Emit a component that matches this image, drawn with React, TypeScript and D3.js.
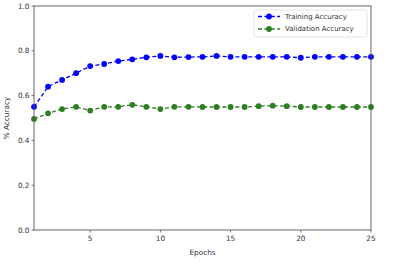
import React from 'react';
import * as d3 from 'd3';

const epochs = d3.range(1, 26);
const trainingAcc = [0.55, 0.64, 0.67, 0.70, 0.732, 0.741, 0.754, 0.762, 0.771, 0.777, 0.771, 0.772, 0.773, 0.777, 0.773, 0.773, 0.773, 0.773, 0.773, 0.769, 0.773, 0.773, 0.773, 0.773, 0.773];
const validationAcc = [0.496, 0.521, 0.540, 0.550, 0.533, 0.550, 0.550, 0.559, 0.550, 0.540, 0.550, 0.550, 0.549, 0.549, 0.549, 0.549, 0.553, 0.555, 0.553, 0.549, 0.549, 0.549, 0.549, 0.549, 0.549];
const xTicks = [5, 10, 15, 20, 25];
const yTicks = [0, 0.2, 0.4, 0.6, 0.8, 1.0];

const series = [
  { name: 'Training Accuracy', values: trainingAcc, color: '#0000ff' },
  { name: 'Validation Accuracy', values: validationAcc, color: '#2e7d22' },
];

const W = 407;
const H = 270;
const margin = { top: 6, right: 36, bottom: 40, left: 34 };
const font = 'DejaVu Sans, sans-serif';

export default function App() {
  const x = d3.scaleLinear().domain([1, 25]).range([margin.left, W - margin.right]);
  const y = d3.scaleLinear().domain([0, 1]).range([H - margin.bottom, margin.top]);
  const line = d3.line<number>().x((_, i) => x(epochs[i])).y(d => y(d));
  const axisColor = '#555';

  return (
    <svg width={W} height={H} style={{ position: 'absolute', left: 0, top: 0, background: '#fff' }} fontFamily={font}>
      {/* series */}
      {series.map(s => (
        <g key={s.name}>
          <path d={line(s.values) || ''} fill="none" stroke={s.color} strokeWidth={1.3} strokeDasharray="4,2.4" />
          {s.values.map((v, i) => (
            <circle key={i} cx={x(epochs[i])} cy={y(v)} r={2.9} fill={s.color} />
          ))}
        </g>
      ))}

      {/* frame */}
      <rect x={margin.left} y={margin.top} width={W - margin.left - margin.right} height={H - margin.top - margin.bottom}
        fill="none" stroke={axisColor} strokeWidth={0.9} />

      {/* y axis */}
      {yTicks.map(t => (
        <g key={t} transform={`translate(${margin.left},${y(t)})`}>
          <line x1={-2.5} x2={0} stroke={axisColor} strokeWidth={0.8} />
          <text x={-4.5} dy="0.35em" textAnchor="end" fontSize={7.3} fill="#333">{t.toFixed(1)}</text>
        </g>
      ))}
      {/* x axis */}
      {xTicks.map(t => (
        <g key={t} transform={`translate(${x(t)},${H - margin.bottom})`}>
          <line y1={0} y2={2.5} stroke={axisColor} strokeWidth={0.8} />
          <text y={10.5} textAnchor="middle" fontSize={7.3} fill="#333">{t}</text>
        </g>
      ))}

      <text x={(margin.left + W - margin.right) / 2} y={255} textAnchor="middle" fontSize={7.3} fill="#333">Epochs</text>
      <text transform={`translate(9,${(margin.top + H - margin.bottom) / 2}) rotate(-90)`} textAnchor="middle" fontSize={7.3} fill="#333">% Accuracy</text>

      {/* legend */}
      <g transform="translate(254,10)">
        <rect width={113} height={27} rx={2} fill="#fff" fillOpacity={0.85} stroke="#ddd" strokeWidth={0.8} />
        {series.map((s, i) => (
          <g key={s.name} transform={`translate(0,${6.5 + i * 12.5})`}>
            <line x1={4} x2={26} stroke={s.color} strokeWidth={1.3} strokeDasharray="4,2.4" />
            <circle cx={15} cy={0} r={2.9} fill={s.color} />
            <text x={31} dy="0.35em" fontSize={7} fill="#333">{s.name}</text>
          </g>
        ))}
      </g>
    </svg>
  );
}
